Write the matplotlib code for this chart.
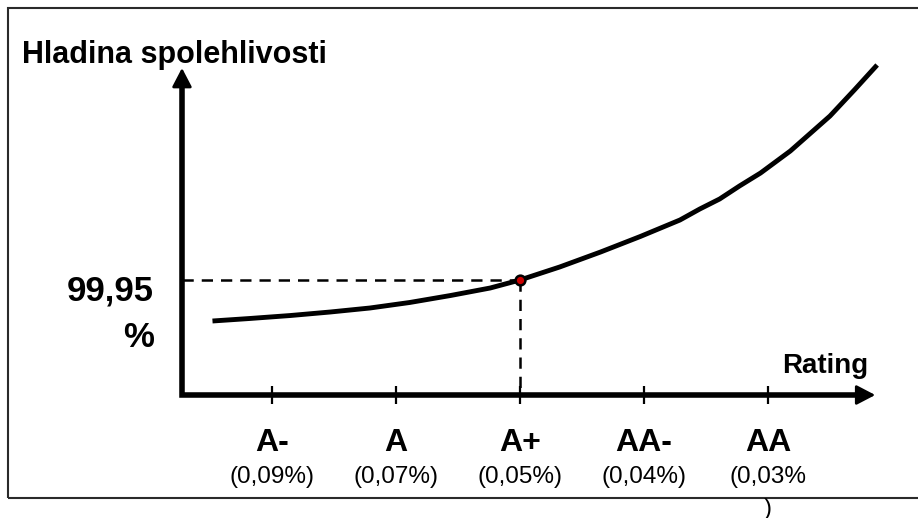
import matplotlib
matplotlib.use('Agg')
import matplotlib.pyplot as plt
from matplotlib.patches import Rectangle

# ---------------- data ----------------
ratings = ['A-', 'A', 'A+', 'AA-', 'AA']
pd_labels = ['(0,09%)', '(0,07%)', '(0,05%)', '(0,04%)', '(0,03%']
pd_overflow = ')'
rating_pos = [0, 1, 2, 3, 4]

# confidence-level curve (x in rating units, y in %)
curve_x = [-0.48, -0.18, 0.15, 0.47, 0.79, 1.11, 1.44, 1.76, 2.0, 2.32,
           2.65, 2.97, 3.29, 3.45, 3.61, 3.77, 3.94, 4.18, 4.34, 4.5,
           4.70, 4.88]
curve_y = [99.9418, 99.9423, 99.9429, 99.9436, 99.9444, 99.9455, 99.9469,
           99.9484, 99.9500, 99.9526, 99.9556, 99.9587, 99.9620, 99.9642,
           99.9662, 99.9688, 99.9714, 99.9758, 99.9793, 99.9828,
           99.9881, 99.9930]

marked_x = 2.0          # A+
marked_level = 99.95
level_text = ['99,95', '%']
y_title = 'Hladina spolehlivosti'
x_title = 'Rating'

# ---------------- layout ----------------
W, H = 918, 518
fig = plt.figure(figsize=(W / 100, H / 100), dpi=100)
ax = fig.add_axes([0, 0, 1, 1])
ax.set_xlim(-272 / 124, 646 / 124)
ax.set_ylim(99.95 - 238 / 5000, 99.95 + 280 / 5000)
ax.axis('off')

FONT = 'Liberation Sans'

def fx(px):
    return px / W

def fy(py):
    return 1 - py / H

# outer frame (right side runs off the picture)
ax.add_patch(Rectangle((fx(8), fy(498)), 2.0, fy(8) - fy(498),
                       transform=ax.transAxes, fill=False,
                       lw=1.5, edgecolor='#2a2a2a', clip_on=True))

x_origin = -0.726
y_origin = 99.927
x_tip = 4.865
y_tip = 99.9924
head_y = 0.0030   # arrow head length along y (data units)
head_x = 0.12     # arrow head length along x (data units)

# axis shafts as one L-shaped line
ax.plot([x_origin, x_origin, x_tip - head_x],
        [y_tip - head_y, y_origin, y_origin],
        color='black', lw=4.0, solid_joinstyle='miter',
        solid_capstyle='butt')

# arrow heads
arrow_style = '-|>,head_length=1.15,head_width=0.6'
ax.annotate('', xy=(x_origin, y_tip), xytext=(x_origin, y_tip - head_y),
            arrowprops=dict(arrowstyle=arrow_style, lw=2.0, color='black',
                            shrinkA=0, shrinkB=0))
ax.annotate('', xy=(x_tip, y_origin), xytext=(x_tip - head_x, y_origin),
            arrowprops=dict(arrowstyle=arrow_style, lw=2.0, color='black',
                            shrinkA=0, shrinkB=0))

# ticks
ax.vlines(rating_pos, y_origin - 0.0018, y_origin + 0.0018,
          colors='black', lw=1.6)

# dashed guide lines
ax.plot([x_origin, marked_x], [marked_level, marked_level], color='black',
        lw=1.8, dashes=(4.5, 3.2))
ax.plot([marked_x, marked_x], [marked_level, y_origin], color='black',
        lw=1.8, dashes=(4.5, 3.2))

# curve
ax.plot(curve_x, curve_y, color='black', lw=3.5, solid_capstyle='butt',
        solid_joinstyle='round')

# marked point
ax.plot([marked_x], [marked_level], 'o', ms=7, mfc='#cc0000',
        mec='black', mew=1.8)

# texts
ax.text(fx(22), fy(63), y_title, transform=ax.transAxes, ha='left',
        va='baseline', fontsize=22, fontweight='bold', family=FONT)
ax.text(fx(868), fy(373), x_title, transform=ax.transAxes, ha='right',
        va='baseline', fontsize=20, fontweight='bold', family=FONT)
ax.text(fx(154), fy(300), level_text[0], transform=ax.transAxes, ha='right',
        va='baseline', fontsize=25, fontweight='bold', family=FONT)
ax.text(fx(154), fy(347), level_text[1], transform=ax.transAxes, ha='right',
        va='baseline', fontsize=25, fontweight='bold', family=FONT)

xt = ax.get_xaxis_transform()
for xp, r, p in zip(rating_pos, ratings, pd_labels):
    ax.text(xp, fy(451), r, transform=xt, ha='center', va='baseline',
            fontsize=23, fontweight='bold', family=FONT)
    ax.text(xp, fy(483), p, transform=xt, ha='center', va='baseline',
            fontsize=17.5, family=FONT)

ax.text(rating_pos[-1], fy(515), pd_overflow, transform=xt, ha='center',
        va='baseline', fontsize=17.5, family=FONT)

fig.savefig('out.png', dpi=100)
